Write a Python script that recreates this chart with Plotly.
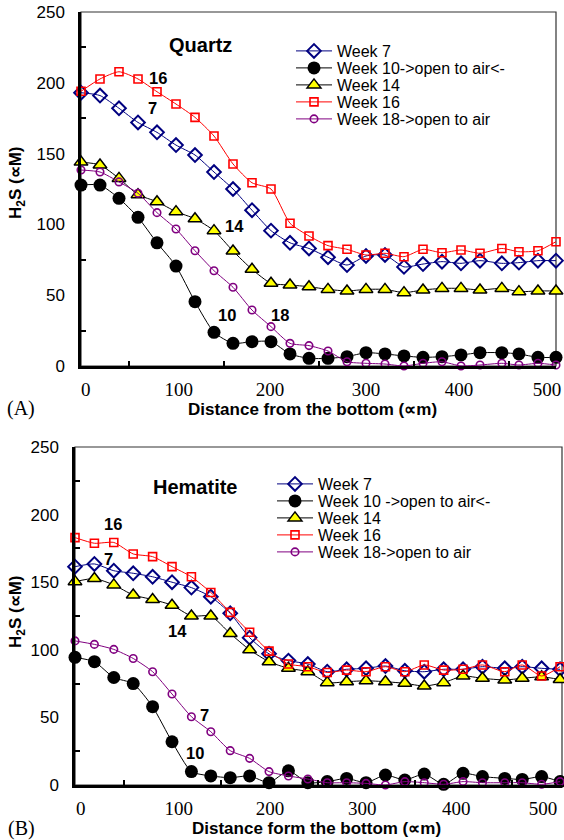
import plotly.graph_objects as go

# ---------------- data ----------------
X = [0, 20, 40, 60, 80, 100, 120, 140, 160, 180, 200, 220, 240, 260, 280, 300,
     320, 340, 360, 380, 400, 420, 443, 461, 481, 500]

# (A) Quartz
q_w7 = [193, 191, 182, 172, 165, 156, 149, 137, 125, 110, 95.6, 87, 83, 76.8, 71.3, 77.7,
        78.4, 70, 72, 73.7, 72.5, 74.4, 72.5, 73, 74.4, 74.4]
q_w10 = [127.8, 127.8, 118.4, 105, 87, 70.6, 45.4, 23.8, 16, 17.2, 17.2, 8.5, 5.4, 5.4, 6.6, 9.4,
         8.5, 7.1, 6.1, 6.6, 7.8, 9.4, 9.4, 8.5, 6.1, 6.1]
q_w14 = [144, 142, 132.5, 121, 116, 109, 104, 95.6, 81.2, 68.3, 58.4, 57.2, 56, 54.1, 53, 54.1,
         54.1, 51.8, 53.7, 54.8, 54.8, 53.7, 54.8, 52.5, 53, 53]
q_w16 = [194, 202.7, 207.8, 202.7, 193.7, 185, 175.6, 162.4, 142.7, 129.4, 125, 100.8, 91.8, 85, 82.4, 78.4,
         79.6, 77.2, 82.4, 80, 81.9, 79.6, 83, 80.7, 81.4, 87.8]
q_w18 = [138.4, 137, 130, 122, 108.3, 96.8, 81.4, 67.3, 55.6, 39.5, 27.8, 16, 14.4, 10.6, 3, 1.9,
         1.4, 0, 1.9, 3, 0, 0.7, 1.9, 0.7, 1.9, 0.7]

# (B) Hematite
h_w7 = [161.5, 163.5, 158.5, 156.6, 154, 150, 146, 139.3, 127, 109, 97, 92, 89.5, 83.8, 85.6, 86.3,
        88, 84.5, 83.8, 85.6, 85.6, 87.5, 86.3, 87.5, 86.3, 85.6]
h_w10 = [94.4, 91.2, 79.5, 75, 57.9, 32, 9.9, 6.7, 5.4, 6.7, 1.7, 10.5, 1.7, 2.5, 4.9, 1.7,
         7.4, 3.7, 8.1, 0.5, 8.6, 6.2, 4.9, 4.1, 6.2, 2.5]
h_w14 = [150.4, 152.7, 148, 140.5, 137.2, 133, 125, 125, 112, 100, 91.2, 86.3, 83.8, 75.7, 76.4, 77.1,
         76.4, 75.2, 73.2, 75.7, 80.6, 78.9, 77.7, 78.9, 80, 78]
h_w16 = [183, 178.8, 179.4, 170.9, 168.9, 161.5, 154, 142.4, 127.7, 113, 99, 89.5, 87.5, 83.2, 85, 83.8,
         87.5, 83.8, 88.8, 85, 85.6, 88.8, 83.8, 88.8, 80.6, 87.5]
h_w18 = [106.6, 104, 100.3, 93.6, 83.8, 67.3, 50.5, 39.4, 25.4, 19.7, 9.9, 6.7, 4.4, 1.7, 1.7, 1.2,
         0, 2.5, 1.7, 0.5, 2.5, 1.7, 1.7, 1.7, 0.5, 2.5]

names_q = ["Week 7", "Week 10-&gt;open to air&lt;-", "Week 14", "Week 16", "Week 18-&gt;open to air"]
names_h = ["Week 7", "Week 10 -&gt;open to air&lt;-", "Week 14", "Week 16", "Week 18-&gt;open to air"]

x_ticks = [0, 100, 200, 300, 400, 500]
x_ticktext = ["0", "100", "200", "300", "400", "500"]
x_minor = [50, 150, 250, 350, 450]
y_ticks = [0, 50, 100, 150, 200, 250]
y_minor = [25, 75, 125, 175, 225]

# ---------------- layout helpers ----------------
W, H = 564, 840
def fx(p):
    return p / W
def fy(p):
    return 1 - p / H

SANS = "Liberation Sans, Arial, sans-serif"
SERIF = "Liberation Serif, Times New Roman, serif"

# label placement nudges (in axis units) so tick labels sit where the original places them
lab_nudge_a = [5, 3, -1, 0, -2, -9.5]
lab_nudge_b = [6, 7, 1, -4, -7, -17.5]

styles = [
    dict(line=dict(color="#000080", width=1),
         marker=dict(symbol="diamond-open", size=10.5, color="#000080", line=dict(width=2, color="#000080"))),
    dict(line=dict(color="black", width=1),
         marker=dict(symbol="circle", size=13, color="black", line=dict(width=0))),
    dict(line=dict(color="black", width=1),
         marker=dict(symbol="triangle-up", size=12, color="#FFFF00", line=dict(width=1.5, color="black"))),
    dict(line=dict(color="#FF0000", width=1),
         marker=dict(symbol="square-open", size=8, color="#FF0000", line=dict(width=1.6, color="#FF0000"))),
    dict(line=dict(color="#800080", width=1),
         marker=dict(symbol="circle-open", size=7.5, color="#800080", line=dict(width=1.6, color="#800080"))),
]

fig = go.Figure()
legend_ids = []
k = 0
for panel, names, series, xa, ya in [
        ("A", names_q, [q_w7, q_w10, q_w14, q_w16, q_w18], "x", "y"),
        ("B", names_h, [h_w7, h_w10, h_w14, h_w16, h_w18], "x2", "y2")]:
    for name, ys, st in zip(names, series, styles):
        k += 1
        lid = "legend" if k == 1 else f"legend{k}"
        legend_ids.append(lid)
        fig.add_trace(go.Scatter(x=X, y=ys, name=name, mode="lines+markers",
                                 line=dict(shape="spline", smoothing=0.6, **st["line"]),
                                 marker=st["marker"], cliponaxis=False,
                                 xaxis=xa, yaxis=ya, legend=lid))

def xaxis(domain, rng, anchor, nudge):
    return dict(domain=domain, range=rng, anchor=anchor, showline=True, linewidth=2.5, linecolor="black",
                tickvals=[v + n for v, n in zip(x_ticks, nudge)], ticktext=x_ticktext,
                ticks="", showgrid=False, zeroline=False, ticklabeloverflow="allow", automargin=False,
                tickfont=dict(family=SERIF, size=19, color="black"), ticklabelstandoff=4,
                minor=dict(tickvals=x_minor, ticks="inside", ticklen=5, tickwidth=1.5, tickcolor="black"))

def yaxis(domain, anchor):
    return dict(domain=domain, range=[0, 250], anchor=anchor, showline=True, linewidth=2.5, linecolor="black",
                tickvals=y_ticks, ticks="", showgrid=False, zeroline=False, automargin=False,
                tickfont=dict(family=SANS, size=17, color="black"), ticklabelstandoff=10,
                minor=dict(tickvals=y_minor, ticks="inside", ticklen=5, tickwidth=1.5, tickcolor="black"))

layout = dict(
    width=W, height=H, margin=dict(l=0, r=0, t=0, b=0, autoexpand=False),
    paper_bgcolor="white", plot_bgcolor="white", showlegend=True,
    xaxis=xaxis([fx(81), fx(556)], [0, 500], "y", lab_nudge_a),
    yaxis=yaxis([fy(366), fy(12)], "x"),
    xaxis2=xaxis([fx(75), fx(562)], [0, 502], "y2", lab_nudge_b),
    yaxis2=yaxis([fy(785), fy(447)], "x2"),
)

rows_a = [51, 68, 85, 102, 119]
rows_b = [484, 501, 518, 535, 552]
for i, lid in enumerate(legend_ids):
    if i < 5:
        lx, ly = 291, rows_a[i]
    else:
        lx, ly = 272, rows_b[i - 5]
    layout[lid] = dict(x=fx(lx), y=fy(ly), xanchor="left", yanchor="middle",
                       font=dict(family=SANS, size=16, color="black"),
                       bgcolor="rgba(0,0,0,0)", itemwidth=36)

fig.update_layout(**layout)

# frames (thin top / right border)
for xr, yr in [("x domain", "y domain"), ("x2 domain", "y2 domain")]:
    fig.add_shape(type="rect", xref=xr, yref=yr, x0=0, x1=1, y0=0, y1=1,
                  line=dict(color="#333333", width=1.2), layer="below")

def ann(text, x, y, size, family=SANS, bold=True, angle=0):
    t = f"<b>{text}</b>" if bold else text
    fig.add_annotation(text=t, x=fx(x), y=fy(y), xref="paper", yref="paper",
                       showarrow=False, xanchor="center", yanchor="middle", textangle=angle,
                       font=dict(family=family, size=size, color="black"))

# panel A texts
ann("Quartz", 200, 45, 20)
ann("16", 158, 78, 16.5)
ann("7", 152, 108, 16.5)
ann("14", 234, 226, 16.5)
ann("10", 227, 315, 16.5)
ann("18", 280, 315, 16.5)
ann("Distance from the bottom (∝m)", 312, 409, 17)
ann("H<sub>2</sub>S (∝M)", 17, 183, 17, angle=-90)
ann("(A)", 21, 408, 20, family=SERIF, bold=False)

# panel B texts
ann("Hematite", 195, 487, 20)
ann("16", 113, 524, 16.5)
ann("7", 108, 559, 16.5)
ann("14", 177, 631, 16.5)
ann("7", 204, 715, 16.5)
ann("10", 195, 753, 16.5)
ann("Distance form the bottom (∝m)", 316, 828, 17)
ann("H<sub>2</sub>S (∝M)", 17, 612, 17, angle=-90)
ann("(B)", 21, 828, 20, family=SERIF, bold=False)

fig.write_html("out.html")
